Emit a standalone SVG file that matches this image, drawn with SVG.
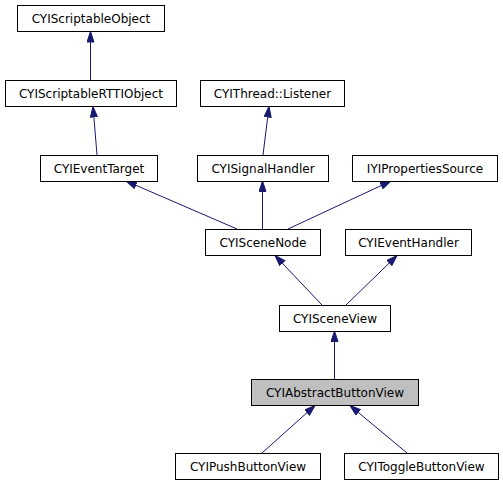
<svg xmlns="http://www.w3.org/2000/svg" width="503" height="485" viewBox="0 0 503 485">
<style>
  .box rect { fill: #ffffff; stroke: #000000; stroke-width: 1; }
  .box.cur rect { fill: #bfbfbf; }
  .box text { font-family: "DejaVu Sans", sans-serif; font-size: 12px; fill: #000000; text-anchor: middle; }
  .edges path { fill: none; stroke: #191970; stroke-width: 1; marker-end: url(#arrow); }
</style>
<defs>
  <marker id="arrow" markerUnits="userSpaceOnUse" markerWidth="12" markerHeight="9" refX="11" refY="4" orient="auto">
    <path d="M0.5,0.5 L11,4 L0.5,7.5 z" fill="#191970" stroke="#191970" stroke-width="1"/>
  </marker>
</defs>
<rect width="503" height="485" fill="#ffffff"/>
<g id="connectors" class="edges">
  <path d="M90.5,80 L90.5,31.5"/>
  <path d="M97,155 L93,106.5"/>
  <path d="M263,155 L269,106.5"/>
  <path d="M262.5,229 L262.5,181"/>
  <path d="M288,229 L391,181"/>
  <path d="M237,229 L126,181"/>
  <path d="M322,305 L275,255.5"/>
  <path d="M346,305 L397,255.5"/>
  <path d="M334.5,379 L334.5,331"/>
  <path d="M262,453 L315,405.5"/>
  <path d="M407,453 L350,405.5"/>
</g>
<g id="CYIScriptableObject" class="box"><rect x="17.5" y="5.5" width="147" height="26"/><text x="91" y="22.5">CYIScriptableObject</text></g>
<g id="CYIScriptableRTTIObject" class="box"><rect x="5.5" y="80.5" width="171" height="26"/><text x="91" y="97.5">CYIScriptableRTTIObject</text></g>
<g id="CYIThreadListener" class="box"><rect x="200.5" y="80.5" width="144" height="26"/><text x="272.5" y="97.5">CYIThread::Listener</text></g>
<g id="CYIEventTarget" class="box"><rect x="40.5" y="155.5" width="117" height="26"/><text x="99" y="172.5">CYIEventTarget</text></g>
<g id="CYISignalHandler" class="box"><rect x="197.5" y="155.5" width="131" height="26"/><text x="263" y="172.5">CYISignalHandler</text></g>
<g id="IYIPropertiesSource" class="box"><rect x="352.5" y="155.5" width="145" height="26"/><text x="425" y="172.5">IYIPropertiesSource</text></g>
<g id="CYISceneNode" class="box"><rect x="205.5" y="229.5" width="115" height="26"/><text x="263" y="246.5">CYISceneNode</text></g>
<g id="CYIEventHandler" class="box"><rect x="345.5" y="229.5" width="126" height="26"/><text x="408.5" y="246.5">CYIEventHandler</text></g>
<g id="CYISceneView" class="box"><rect x="279.5" y="305.5" width="111" height="26"/><text x="335" y="322.5">CYISceneView</text></g>
<g id="CYIAbstractButtonView" class="box cur"><rect x="251.5" y="379.5" width="167" height="26"/><text x="335" y="396.5">CYIAbstractButtonView</text></g>
<g id="CYIPushButtonView" class="box"><rect x="175.5" y="453.5" width="145" height="26"/><text x="248" y="470.5">CYIPushButtonView</text></g>
<g id="CYIToggleButtonView" class="box"><rect x="344.5" y="453.5" width="154" height="26"/><text x="421.5" y="470.5">CYIToggleButtonView</text></g>
</svg>
